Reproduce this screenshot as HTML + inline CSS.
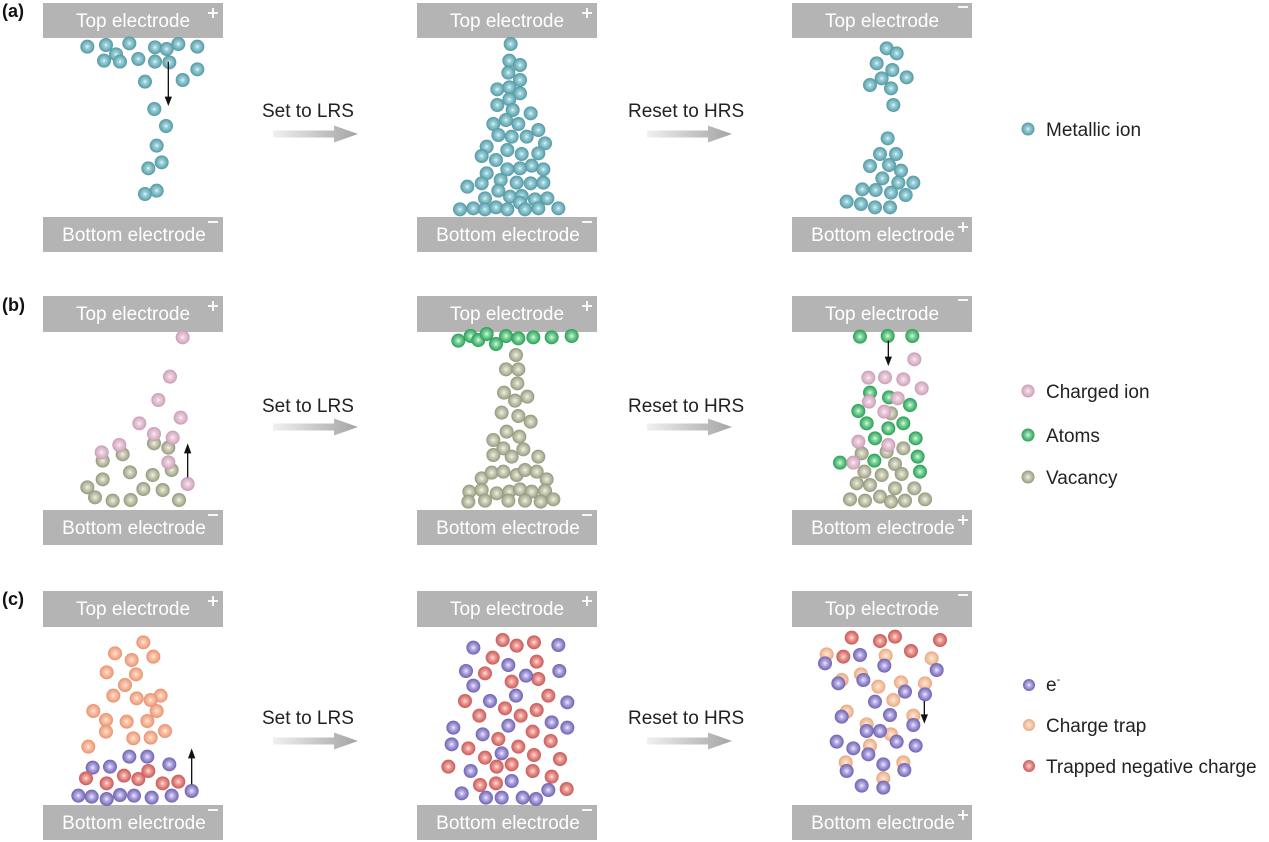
<!DOCTYPE html>
<html><head><meta charset="utf-8"><style>
html,body{margin:0;padding:0;background:#fff;}
svg{display:block;}
text{font-family:"Liberation Sans",Arial,sans-serif;}
</style></head><body>
<svg width="1269" height="842" viewBox="0 0 1269 842" xmlns="http://www.w3.org/2000/svg">
<defs>
<radialGradient id="teal"><stop offset="0" stop-color="#eefafb"/><stop offset="0.25" stop-color="#a2d3da"/><stop offset="0.65" stop-color="#76b6c0"/><stop offset="1" stop-color="#5696a2"/></radialGradient>
<radialGradient id="pink"><stop offset="0" stop-color="#fbf0f6"/><stop offset="0.3" stop-color="#e9cddc"/><stop offset="0.7" stop-color="#dbb5ca"/><stop offset="1" stop-color="#c99ab3"/></radialGradient>
<radialGradient id="gray"><stop offset="0" stop-color="#f2f3e8"/><stop offset="0.3" stop-color="#d2d4bf"/><stop offset="0.7" stop-color="#b2b59b"/><stop offset="1" stop-color="#92967b"/></radialGradient>
<radialGradient id="green"><stop offset="0" stop-color="#e6f8ec"/><stop offset="0.3" stop-color="#8fd9aa"/><stop offset="0.7" stop-color="#4cbb74"/><stop offset="1" stop-color="#2f9a57"/></radialGradient>
<radialGradient id="orange"><stop offset="0" stop-color="#fde9dc"/><stop offset="0.3" stop-color="#f9c8ae"/><stop offset="0.7" stop-color="#f3ab8c"/><stop offset="1" stop-color="#e59272"/></radialGradient>
<radialGradient id="trap"><stop offset="0" stop-color="#fdeede"/><stop offset="0.35" stop-color="#f8d2b6"/><stop offset="0.75" stop-color="#f2bb98"/><stop offset="1" stop-color="#e6a47f"/></radialGradient>
<radialGradient id="red"><stop offset="0" stop-color="#fde3df"/><stop offset="0.3" stop-color="#f0a8a2"/><stop offset="0.7" stop-color="#dc7774"/><stop offset="1" stop-color="#c65c5a"/></radialGradient>
<radialGradient id="purple"><stop offset="0" stop-color="#f1eefc"/><stop offset="0.3" stop-color="#bdb3e8"/><stop offset="0.7" stop-color="#8e82c8"/><stop offset="1" stop-color="#6f63ad"/></radialGradient>
<linearGradient id="arr" x1="0" x2="1" y1="0" y2="0"><stop offset="0" stop-color="#f0f0f0"/><stop offset="1" stop-color="#a4a4a4"/></linearGradient>
</defs>

<!-- labels -->
<text x="2" y="17" font-size="18" font-weight="bold" fill="#111">(a)</text>
<text x="2" y="311" font-size="18" font-weight="bold" fill="#111">(b)</text>
<text x="2" y="605" font-size="18" font-weight="bold" fill="#111">(c)</text>

<!-- electrodes -->
<g fill="#b4b4b4">
<rect x="43" y="3" width="180" height="35"/><rect x="43" y="217" width="180" height="35"/>
<rect x="417" y="3" width="180" height="35"/><rect x="417" y="217" width="180" height="35"/>
<rect x="792" y="3" width="180" height="35"/><rect x="792" y="217" width="180" height="35"/>
<rect x="43" y="296" width="180" height="36"/><rect x="43" y="510" width="180" height="35"/>
<rect x="417" y="296" width="180" height="36"/><rect x="417" y="510" width="180" height="35"/>
<rect x="792" y="296" width="180" height="36"/><rect x="792" y="510" width="180" height="35"/>
<rect x="43" y="591" width="180" height="36"/><rect x="43" y="805" width="180" height="35"/>
<rect x="417" y="591" width="180" height="36"/><rect x="417" y="805" width="180" height="35"/>
<rect x="792" y="591" width="180" height="36"/><rect x="792" y="805" width="180" height="35"/>
</g>
<g fill="#fff" font-size="19" text-anchor="middle">
<text x="133" y="27">Top electrode</text><text x="134" y="241">Bottom electrode</text>
<text x="507" y="27">Top electrode</text><text x="508" y="241">Bottom electrode</text>
<text x="882" y="27">Top electrode</text><text x="883" y="241">Bottom electrode</text>
<text x="133" y="320">Top electrode</text><text x="134" y="534">Bottom electrode</text>
<text x="507" y="320">Top electrode</text><text x="508" y="534">Bottom electrode</text>
<text x="882" y="320">Top electrode</text><text x="883" y="534">Bottom electrode</text>
<text x="133" y="615">Top electrode</text><text x="134" y="829">Bottom electrode</text>
<text x="507" y="615">Top electrode</text><text x="508" y="829">Bottom electrode</text>
<text x="882" y="615">Top electrode</text><text x="883" y="829">Bottom electrode</text>
</g>
<g stroke="#fff" stroke-width="1.8" fill="none">
<path d="M208 13h10M213 8v10"/><path d="M208 222h10"/>
<path d="M582 13h10M587 8v10"/><path d="M582 222h10"/>
<path d="M958 7h10"/><path d="M958 227h10M963 222v10"/>
<path d="M208 306h10M213 301v10"/><path d="M208 515h10"/>
<path d="M582 306h10M587 301v10"/><path d="M582 515h10"/>
<path d="M958 300h10"/><path d="M958 520h10M963 515v10"/>
<path d="M208 601h10M213 596v10"/><path d="M208 810h10"/>
<path d="M582 601h10M587 596v10"/><path d="M582 810h10"/>
<path d="M958 595h10"/><path d="M958 815h10M963 810v10"/>
</g>

<!-- transition arrows & labels -->
<g font-size="19" fill="#222">
<text x="262" y="117">Set to LRS</text><text x="628" y="117">Reset to HRS</text>
<text x="262" y="412">Set to LRS</text><text x="628" y="412">Reset to HRS</text>
<text x="262" y="724">Set to LRS</text><text x="628" y="724">Reset to HRS</text>
</g>
<g fill="url(#arr)">
<path d="M273 130.5H334V125.5L358 134L334 142.5V137.5H273Z"/>
<path d="M647 130.5H708V125.5L732 134L708 142.5V137.5H647Z"/>
<path d="M273 423.5H334V418.5L358 427L334 435.5V430.5H273Z"/>
<path d="M647 423.5H708V418.5L732 427L708 435.5V430.5H647Z"/>
<path d="M273 737.5H334V732.5L358 741L334 749.5V744.5H273Z"/>
<path d="M647 737.5H708V732.5L732 741L708 749.5V744.5H647Z"/>
</g>

<!-- legend -->
<g font-size="19" fill="#222">
<circle cx="1028" cy="129" r="6.5" fill="url(#teal)"/><text x="1046" y="136">Metallic ion</text>
<circle cx="1028" cy="391" r="6.5" fill="url(#pink)"/><text x="1046" y="398">Charged ion</text>
<circle cx="1028" cy="435" r="6.5" fill="url(#green)"/><text x="1046" y="442">Atoms</text>
<circle cx="1028" cy="477" r="6.5" fill="url(#gray)"/><text x="1046" y="484">Vacancy</text>
<circle cx="1029" cy="685" r="6" fill="url(#purple)"/><text x="1046" y="691">e<tspan font-size="11" dy="-8">-</tspan></text>
<circle cx="1029" cy="725" r="6" fill="url(#trap)"/><text x="1046" y="732">Charge trap</text>
<circle cx="1029" cy="766" r="6" fill="url(#red)"/><text x="1046" y="773">Trapped negative charge</text>
</g>

<!-- panel a1 -->
<g transform="translate(30,0) scale(0.33333)">
<g fill="url(#teal)">
<circle cx="172" cy="140" r="21"/><circle cx="228" cy="135" r="21"/><circle cx="298" cy="130" r="21"/><circle cx="258" cy="163" r="21"/><circle cx="222" cy="182" r="21"/><circle cx="270" cy="185" r="21"/><circle cx="325" cy="177" r="21"/><circle cx="375" cy="142" r="21"/><circle cx="410" cy="147" r="21"/><circle cx="445" cy="132" r="21"/><circle cx="502" cy="140" r="21"/><circle cx="375" cy="185" r="21"/><circle cx="418" cy="187" r="21"/><circle cx="502" cy="208" r="21"/><circle cx="458" cy="240" r="21"/><circle cx="345" cy="245" r="21"/><circle cx="373" cy="327" r="21"/><circle cx="408" cy="378" r="21"/><circle cx="380" cy="437" r="21"/><circle cx="395" cy="487" r="21"/><circle cx="355" cy="505" r="21"/><circle cx="380" cy="572" r="21"/><circle cx="345" cy="582" r="21"/>
</g>
<path d="M415 185V295" stroke="#111" stroke-width="4"/><path d="M404 290L415 318L426 290Z" fill="#111"/>
</g>

<!-- panel a2 -->
<g transform="translate(410,0) scale(0.33333)" fill="url(#teal)">
<circle cx="302" cy="132" r="21"/><circle cx="298" cy="182" r="21"/><circle cx="330" cy="195" r="21"/><circle cx="295" cy="218" r="21"/><circle cx="330" cy="240" r="21"/><circle cx="262" cy="268" r="21"/><circle cx="298" cy="262" r="21"/><circle cx="330" cy="280" r="21"/><circle cx="298" cy="298" r="21"/><circle cx="262" cy="315" r="21"/><circle cx="308" cy="330" r="21"/><circle cx="362" cy="340" r="21"/><circle cx="250" cy="372" r="21"/><circle cx="288" cy="360" r="21"/><circle cx="325" cy="372" r="21"/><circle cx="385" cy="390" r="21"/><circle cx="265" cy="405" r="21"/><circle cx="305" cy="410" r="21"/><circle cx="350" cy="410" r="21"/><circle cx="405" cy="430" r="21"/><circle cx="230" cy="440" r="21"/><circle cx="292" cy="450" r="21"/><circle cx="335" cy="462" r="21"/><circle cx="385" cy="460" r="21"/><circle cx="215" cy="468" r="21"/><circle cx="258" cy="480" r="21"/><circle cx="365" cy="497" r="21"/><circle cx="292" cy="508" r="21"/><circle cx="330" cy="505" r="21"/><circle cx="400" cy="508" r="21"/><circle cx="230" cy="520" r="21"/><circle cx="272" cy="540" r="21"/><circle cx="320" cy="548" r="21"/><circle cx="362" cy="550" r="21"/><circle cx="400" cy="548" r="21"/><circle cx="172" cy="560" r="21"/><circle cx="215" cy="550" r="21"/><circle cx="265" cy="572" r="21"/><circle cx="300" cy="590" r="21"/><circle cx="335" cy="588" r="21"/><circle cx="375" cy="598" r="21"/><circle cx="412" cy="595" r="21"/><circle cx="225" cy="595" r="21"/><circle cx="330" cy="608" r="21"/><circle cx="150" cy="628" r="21"/><circle cx="190" cy="625" r="21"/><circle cx="225" cy="628" r="21"/><circle cx="258" cy="622" r="21"/><circle cx="292" cy="628" r="21"/><circle cx="345" cy="628" r="21"/><circle cx="385" cy="625" r="21"/><circle cx="445" cy="625" r="21"/>
</g>

<!-- panel a3 -->
<g transform="translate(785,0) scale(0.33333)" fill="url(#teal)">
<circle cx="305" cy="145" r="21"/><circle cx="335" cy="160" r="21"/><circle cx="275" cy="190" r="21"/><circle cx="322" cy="210" r="21"/><circle cx="290" cy="235" r="21"/><circle cx="255" cy="255" r="21"/><circle cx="365" cy="232" r="21"/><circle cx="318" cy="265" r="21"/><circle cx="325" cy="315" r="21"/><circle cx="308" cy="415" r="21"/><circle cx="285" cy="462" r="21"/><circle cx="333" cy="462" r="21"/><circle cx="255" cy="498" r="21"/><circle cx="312" cy="495" r="21"/><circle cx="348" cy="512" r="21"/><circle cx="292" cy="535" r="21"/><circle cx="340" cy="548" r="21"/><circle cx="385" cy="548" r="21"/><circle cx="232" cy="568" r="21"/><circle cx="272" cy="570" r="21"/><circle cx="318" cy="578" r="21"/><circle cx="362" cy="585" r="21"/><circle cx="185" cy="605" r="21"/><circle cx="228" cy="612" r="21"/><circle cx="270" cy="622" r="21"/><circle cx="315" cy="622" r="21"/>
</g>

<!-- panel b1 -->
<g transform="translate(30,290) scale(0.33333)">
<g fill="url(#gray)">
<circle cx="218" cy="512" r="21"/><circle cx="278" cy="493" r="21"/><circle cx="372" cy="460" r="21"/><circle cx="415" cy="473" r="21"/><circle cx="425" cy="540" r="21"/><circle cx="300" cy="547" r="21"/><circle cx="368" cy="555" r="21"/><circle cx="218" cy="568" r="21"/><circle cx="172" cy="592" r="21"/><circle cx="340" cy="597" r="21"/><circle cx="398" cy="600" r="21"/><circle cx="195" cy="622" r="21"/><circle cx="248" cy="632" r="21"/><circle cx="302" cy="630" r="21"/><circle cx="447" cy="630" r="21"/>
</g>
<g fill="url(#pink)">
<circle cx="458" cy="142" r="21"/><circle cx="420" cy="260" r="21"/><circle cx="385" cy="330" r="21"/><circle cx="328" cy="400" r="21"/><circle cx="452" cy="383" r="21"/><circle cx="372" cy="432" r="21"/><circle cx="428" cy="443" r="21"/><circle cx="268" cy="465" r="21"/><circle cx="215" cy="487" r="21"/><circle cx="415" cy="517" r="21"/><circle cx="473" cy="582" r="21"/>
</g>
<path d="M473 562V485" stroke="#111" stroke-width="4"/><path d="M462 490L473 460L484 490Z" fill="#111"/>
</g>

<!-- panel b2 -->
<g transform="translate(410,290) scale(0.33333)">
<g fill="url(#gray)">
<circle cx="318" cy="195" r="21"/><circle cx="288" cy="238" r="21"/><circle cx="325" cy="238" r="21"/><circle cx="322" cy="280" r="21"/><circle cx="282" cy="308" r="21"/><circle cx="315" cy="332" r="21"/><circle cx="352" cy="320" r="21"/><circle cx="275" cy="368" r="21"/><circle cx="325" cy="378" r="21"/><circle cx="362" cy="395" r="21"/><circle cx="290" cy="425" r="21"/><circle cx="328" cy="440" r="21"/><circle cx="250" cy="450" r="21"/><circle cx="280" cy="475" r="21"/><circle cx="340" cy="478" r="21"/><circle cx="250" cy="495" r="21"/><circle cx="305" cy="500" r="21"/><circle cx="385" cy="500" r="21"/><circle cx="215" cy="565" r="21"/><circle cx="245" cy="548" r="21"/><circle cx="280" cy="545" r="21"/><circle cx="320" cy="555" r="21"/><circle cx="345" cy="540" r="21"/><circle cx="380" cy="545" r="21"/><circle cx="410" cy="568" r="21"/><circle cx="178" cy="605" r="21"/><circle cx="215" cy="600" r="21"/><circle cx="260" cy="610" r="21"/><circle cx="298" cy="605" r="21"/><circle cx="330" cy="598" r="21"/><circle cx="365" cy="605" r="21"/><circle cx="405" cy="602" r="21"/><circle cx="175" cy="635" r="21"/><circle cx="225" cy="632" r="21"/><circle cx="295" cy="632" r="21"/><circle cx="345" cy="632" r="21"/><circle cx="392" cy="635" r="21"/><circle cx="430" cy="628" r="21"/>
</g>
<g fill="url(#green)">
<circle cx="145" cy="152" r="21"/><circle cx="182" cy="138" r="21"/><circle cx="205" cy="150" r="21"/><circle cx="230" cy="132" r="21"/><circle cx="258" cy="162" r="21"/><circle cx="288" cy="138" r="21"/><circle cx="325" cy="145" r="21"/><circle cx="370" cy="142" r="21"/><circle cx="425" cy="142" r="21"/><circle cx="485" cy="138" r="21"/>
</g>
</g>

<!-- panel b3 -->
<g transform="translate(785,290) scale(0.33333)">
<g fill="url(#gray)">
<circle cx="318" cy="370" r="21"/><circle cx="230" cy="490" r="21"/><circle cx="305" cy="485" r="21"/><circle cx="355" cy="475" r="21"/><circle cx="330" cy="522" r="21"/><circle cx="238" cy="545" r="21"/><circle cx="290" cy="555" r="21"/><circle cx="350" cy="552" r="21"/><circle cx="215" cy="580" r="21"/><circle cx="255" cy="585" r="21"/><circle cx="330" cy="595" r="21"/><circle cx="388" cy="595" r="21"/><circle cx="195" cy="628" r="21"/><circle cx="240" cy="632" r="21"/><circle cx="285" cy="620" r="21"/><circle cx="318" cy="635" r="21"/><circle cx="360" cy="632" r="21"/><circle cx="420" cy="628" r="21"/>
</g>
<g fill="url(#green)">
<circle cx="225" cy="140" r="21"/><circle cx="308" cy="138" r="21"/><circle cx="382" cy="138" r="21"/><circle cx="255" cy="308" r="21"/><circle cx="312" cy="322" r="21"/><circle cx="375" cy="345" r="21"/><circle cx="220" cy="363" r="21"/><circle cx="245" cy="400" r="21"/><circle cx="310" cy="415" r="21"/><circle cx="355" cy="400" r="21"/><circle cx="270" cy="445" r="21"/><circle cx="392" cy="445" r="21"/><circle cx="165" cy="518" r="21"/><circle cx="268" cy="512" r="21"/><circle cx="398" cy="500" r="21"/><circle cx="405" cy="545" r="21"/>
</g>
<g fill="url(#pink)">
<circle cx="388" cy="208" r="21"/><circle cx="250" cy="263" r="21"/><circle cx="300" cy="262" r="21"/><circle cx="355" cy="268" r="21"/><circle cx="410" cy="295" r="21"/><circle cx="252" cy="335" r="21"/><circle cx="338" cy="325" r="21"/><circle cx="298" cy="365" r="21"/><circle cx="220" cy="455" r="21"/><circle cx="310" cy="465" r="21"/><circle cx="205" cy="518" r="21"/>
</g>
<path d="M310 152V205" stroke="#111" stroke-width="4"/><path d="M299 200L310 228L321 200Z" fill="#111"/>
</g>

<!-- panel c1 -->
<g transform="translate(30,585) scale(0.33333)">
<g fill="url(#orange)">
<circle cx="340" cy="172" r="21"/><circle cx="255" cy="205" r="21"/><circle cx="305" cy="225" r="21"/><circle cx="370" cy="215" r="21"/><circle cx="230" cy="262" r="21"/><circle cx="318" cy="268" r="21"/><circle cx="285" cy="300" r="21"/><circle cx="250" cy="332" r="21"/><circle cx="320" cy="340" r="21"/><circle cx="392" cy="332" r="21"/><circle cx="362" cy="345" r="21"/><circle cx="380" cy="378" r="21"/><circle cx="190" cy="378" r="21"/><circle cx="228" cy="405" r="21"/><circle cx="290" cy="410" r="21"/><circle cx="352" cy="408" r="21"/><circle cx="228" cy="440" r="21"/><circle cx="310" cy="460" r="21"/><circle cx="362" cy="458" r="21"/><circle cx="405" cy="438" r="21"/><circle cx="175" cy="485" r="21"/>
</g>
<g fill="url(#purple)">
<circle cx="298" cy="515" r="21"/><circle cx="352" cy="515" r="21"/><circle cx="418" cy="538" r="21"/><circle cx="188" cy="548" r="21"/><circle cx="240" cy="545" r="21"/>
</g>
<g fill="url(#red)">
<circle cx="168" cy="580" r="21"/><circle cx="230" cy="595" r="21"/><circle cx="282" cy="572" r="21"/><circle cx="325" cy="582" r="21"/><circle cx="355" cy="558" r="21"/><circle cx="398" cy="595" r="21"/><circle cx="445" cy="590" r="21"/>
</g>
<g fill="url(#purple)">
<circle cx="145" cy="632" r="21"/><circle cx="185" cy="635" r="21"/><circle cx="230" cy="642" r="21"/><circle cx="270" cy="630" r="21"/><circle cx="312" cy="632" r="21"/><circle cx="365" cy="638" r="21"/><circle cx="425" cy="632" r="21"/><circle cx="485" cy="618" r="21"/>
</g>
<path d="M485 598V515" stroke="#111" stroke-width="4"/><path d="M474 520L485 490L496 520Z" fill="#111"/>
</g>

<!-- panel c2 -->
<g transform="translate(410,585) scale(0.33333)">
<g fill="url(#red)">
<circle cx="278" cy="165" r="21"/><circle cx="320" cy="182" r="21"/><circle cx="372" cy="172" r="21"/><circle cx="248" cy="218" r="21"/><circle cx="380" cy="230" r="21"/><circle cx="225" cy="265" r="21"/><circle cx="305" cy="290" r="21"/><circle cx="385" cy="282" r="21"/><circle cx="165" cy="348" r="21"/><circle cx="415" cy="332" r="21"/><circle cx="285" cy="370" r="21"/><circle cx="208" cy="392" r="21"/><circle cx="332" cy="392" r="21"/><circle cx="380" cy="375" r="21"/><circle cx="368" cy="440" r="21"/><circle cx="265" cy="462" r="21"/><circle cx="422" cy="468" r="21"/><circle cx="175" cy="490" r="21"/><circle cx="325" cy="485" r="21"/><circle cx="225" cy="518" r="21"/><circle cx="372" cy="510" r="21"/><circle cx="450" cy="522" r="21"/><circle cx="115" cy="545" r="21"/><circle cx="260" cy="545" r="21"/><circle cx="305" cy="538" r="21"/><circle cx="368" cy="558" r="21"/><circle cx="425" cy="575" r="21"/><circle cx="210" cy="600" r="21"/><circle cx="258" cy="595" r="21"/><circle cx="470" cy="612" r="21"/>
</g>
<g fill="url(#purple)">
<circle cx="190" cy="188" r="21"/><circle cx="445" cy="180" r="21"/><circle cx="168" cy="258" r="21"/><circle cx="295" cy="240" r="21"/><circle cx="348" cy="272" r="21"/><circle cx="448" cy="258" r="21"/><circle cx="190" cy="302" r="21"/><circle cx="240" cy="348" r="21"/><circle cx="318" cy="332" r="21"/><circle cx="472" cy="352" r="21"/><circle cx="130" cy="428" r="21"/><circle cx="218" cy="448" r="21"/><circle cx="295" cy="422" r="21"/><circle cx="425" cy="412" r="21"/><circle cx="472" cy="428" r="21"/><circle cx="125" cy="478" r="21"/><circle cx="275" cy="505" r="21"/><circle cx="182" cy="558" r="21"/><circle cx="305" cy="588" r="21"/><circle cx="155" cy="625" r="21"/><circle cx="228" cy="638" r="21"/><circle cx="275" cy="638" r="21"/><circle cx="338" cy="638" r="21"/><circle cx="378" cy="642" r="21"/><circle cx="415" cy="615" r="21"/>
</g>
</g>

<!-- panel c3 -->
<g transform="translate(785,585) scale(0.33333)">
<g fill="url(#red)">
<circle cx="200" cy="158" r="21"/><circle cx="285" cy="168" r="21"/><circle cx="330" cy="155" r="21"/><circle cx="465" cy="165" r="21"/><circle cx="175" cy="215" r="21"/><circle cx="378" cy="198" r="21"/>
</g>
<g fill="url(#trap)">
<circle cx="125" cy="208" r="21"/><circle cx="302" cy="212" r="21"/><circle cx="440" cy="220" r="21"/><circle cx="170" cy="285" r="21"/><circle cx="228" cy="268" r="21"/><circle cx="280" cy="305" r="21"/><circle cx="348" cy="292" r="21"/><circle cx="420" cy="295" r="21"/><circle cx="325" cy="345" r="21"/><circle cx="185" cy="380" r="21"/><circle cx="385" cy="392" r="21"/><circle cx="245" cy="418" r="21"/><circle cx="318" cy="448" r="21"/><circle cx="255" cy="482" r="21"/><circle cx="182" cy="532" r="21"/><circle cx="355" cy="532" r="21"/><circle cx="295" cy="580" r="21"/>
</g>
<g fill="url(#purple)">
<circle cx="120" cy="235" r="21"/><circle cx="225" cy="210" r="21"/><circle cx="298" cy="242" r="21"/><circle cx="455" cy="255" r="21"/><circle cx="160" cy="295" r="21"/><circle cx="235" cy="285" r="21"/><circle cx="360" cy="320" r="21"/><circle cx="420" cy="328" r="21"/><circle cx="270" cy="350" r="21"/><circle cx="315" cy="390" r="21"/><circle cx="170" cy="395" r="21"/><circle cx="385" cy="420" r="21"/><circle cx="245" cy="438" r="21"/><circle cx="285" cy="438" r="21"/><circle cx="155" cy="470" r="21"/><circle cx="335" cy="470" r="21"/><circle cx="392" cy="482" r="21"/><circle cx="205" cy="490" r="21"/><circle cx="250" cy="508" r="21"/><circle cx="295" cy="538" r="21"/><circle cx="185" cy="558" r="21"/><circle cx="358" cy="555" r="21"/><circle cx="230" cy="602" r="21"/><circle cx="295" cy="608" r="21"/>
</g>
<path d="M418 348V392" stroke="#111" stroke-width="4"/><path d="M407 388L418 416L429 388Z" fill="#111"/>
</g>
</svg>
</body></html>
